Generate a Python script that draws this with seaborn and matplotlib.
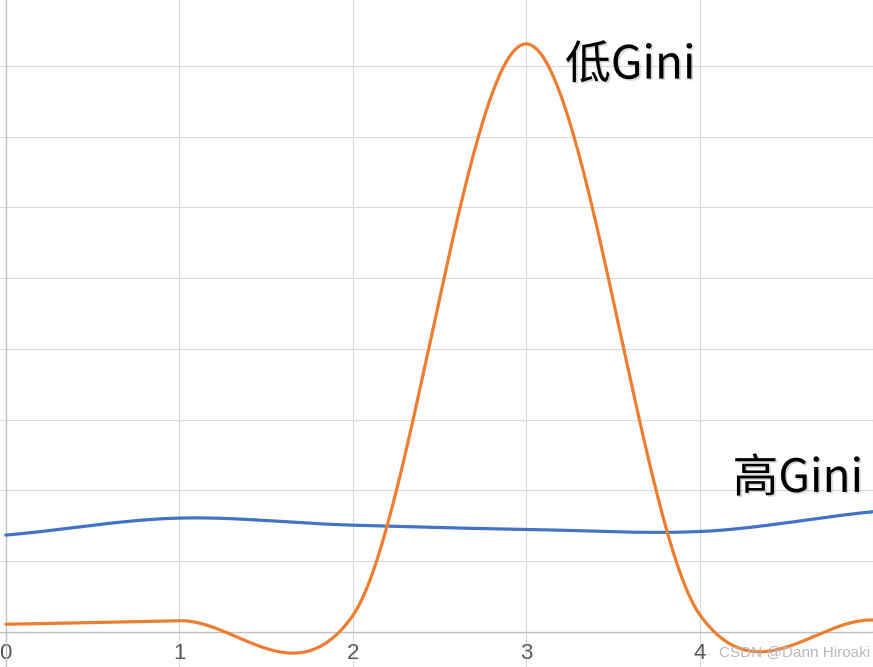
import numpy as np
import pandas as pd
import matplotlib
matplotlib.use("Agg")
import matplotlib.pyplot as plt
import matplotlib.patheffects as pe
import seaborn as sns

# values (one point per integer x)
X_POINTS   = [0, 1, 2, 3, 4, 5]
HIGH_GINI  = [1.37, 1.61, 1.51, 1.45, 1.42, 1.70]   # blue
LOW_GINI   = [0.11, 0.16, 0.23, 8.31, 0.25, 0.17]   # orange
X_LABELS   = ["0", "1", "2", "3", "4", ""]
LABEL_LOW  = "低Gini"
LABEL_HIGH = "高Gini"
WATERMARK  = "CSDN @Dann Hiroaki"

BLUE   = "#4472C4"
ORANGE = "#ED7D31"


def smooth(xp, yp, k=0.85, n=60):
    # excel-like smoothed line (cardinal spline through the data points)
    xp = np.asarray(xp, float)
    yp = np.asarray(yp, float)
    m = np.zeros_like(yp)
    m[1:-1] = (yp[2:] - yp[:-2]) / 2 * k
    m[0] = (yp[1] - yp[0]) * k
    m[-1] = (yp[-1] - yp[-2]) * k
    xs, ys = [], []
    for i in range(len(xp) - 1):
        t = np.linspace(0, 1, n, endpoint=(i == len(xp) - 2))
        h00 = 2 * t**3 - 3 * t**2 + 1
        h10 = t**3 - 2 * t**2 + t
        h01 = -2 * t**3 + 3 * t**2
        h11 = t**3 - t**2
        xs.append(xp[i] + t * (xp[i + 1] - xp[i]))
        ys.append(h00 * yp[i] + h10 * m[i] + h01 * yp[i + 1] + h11 * m[i + 1])
    return np.concatenate(xs), np.concatenate(ys)


sns.set_style("white")
plt.rcParams["font.family"] = ["Noto Sans CJK SC", "DejaVu Sans"]

fig = plt.figure(figsize=(8.73, 6.67), dpi=100)
ax = fig.add_axes([0, 0, 1, 1])

for vals, color in [(HIGH_GINI, BLUE), (LOW_GINI, ORANGE)]:
    xs, ys = smooth(X_POINTS, vals)
    df = pd.DataFrame({"x": xs, "y": ys})
    sns.lineplot(data=df, x="x", y="y", sort=False, estimator=None,
                 color=color, linewidth=2.3, ax=ax, zorder=3)

ax.set_xlim(-0.0335, 4.975)
ax.set_ylim(-0.494, 8.93)
ax.set_xticks(X_POINTS)
ax.set_xticklabels(X_LABELS)
ax.set_yticks(range(0, 9))
ax.set_yticklabels([])
ax.grid(True, color="#d9d9d9", linewidth=0.8, zorder=0)
ax.axhline(0, color="#bfbfbf", linewidth=0.9, zorder=1)
ax.axvline(0, color="#bfbfbf", linewidth=0.9, zorder=1)
for s in ax.spines.values():
    s.set_visible(False)
ax.tick_params(axis="x", length=0, pad=-17.5, labelsize=16, labelcolor="#595959")
ax.tick_params(axis="y", length=0)
for lbl in ax.get_xticklabels():
    lbl.set_fontfamily("Liberation Sans")
ax.set_xlabel("")
ax.set_ylabel("")

shadow = [pe.withSimplePatchShadow(offset=(1.2, -1.2), shadow_rgbFace="#888888", alpha=0.35)]
ax.text(3.224, 7.82, LABEL_LOW, fontsize=33, color="black", va="baseline",
        ha="left", path_effects=shadow, zorder=4)
ax.text(4.19, 1.98, LABEL_HIGH, fontsize=33, color="black", va="baseline",
        ha="left", path_effects=shadow, zorder=4)

fig.text(0.997, 0.022, WATERMARK, fontsize=11, color="#b8b8b8", ha="right",
         va="center", family="Liberation Sans")

fig.savefig("out.png", dpi=100)
